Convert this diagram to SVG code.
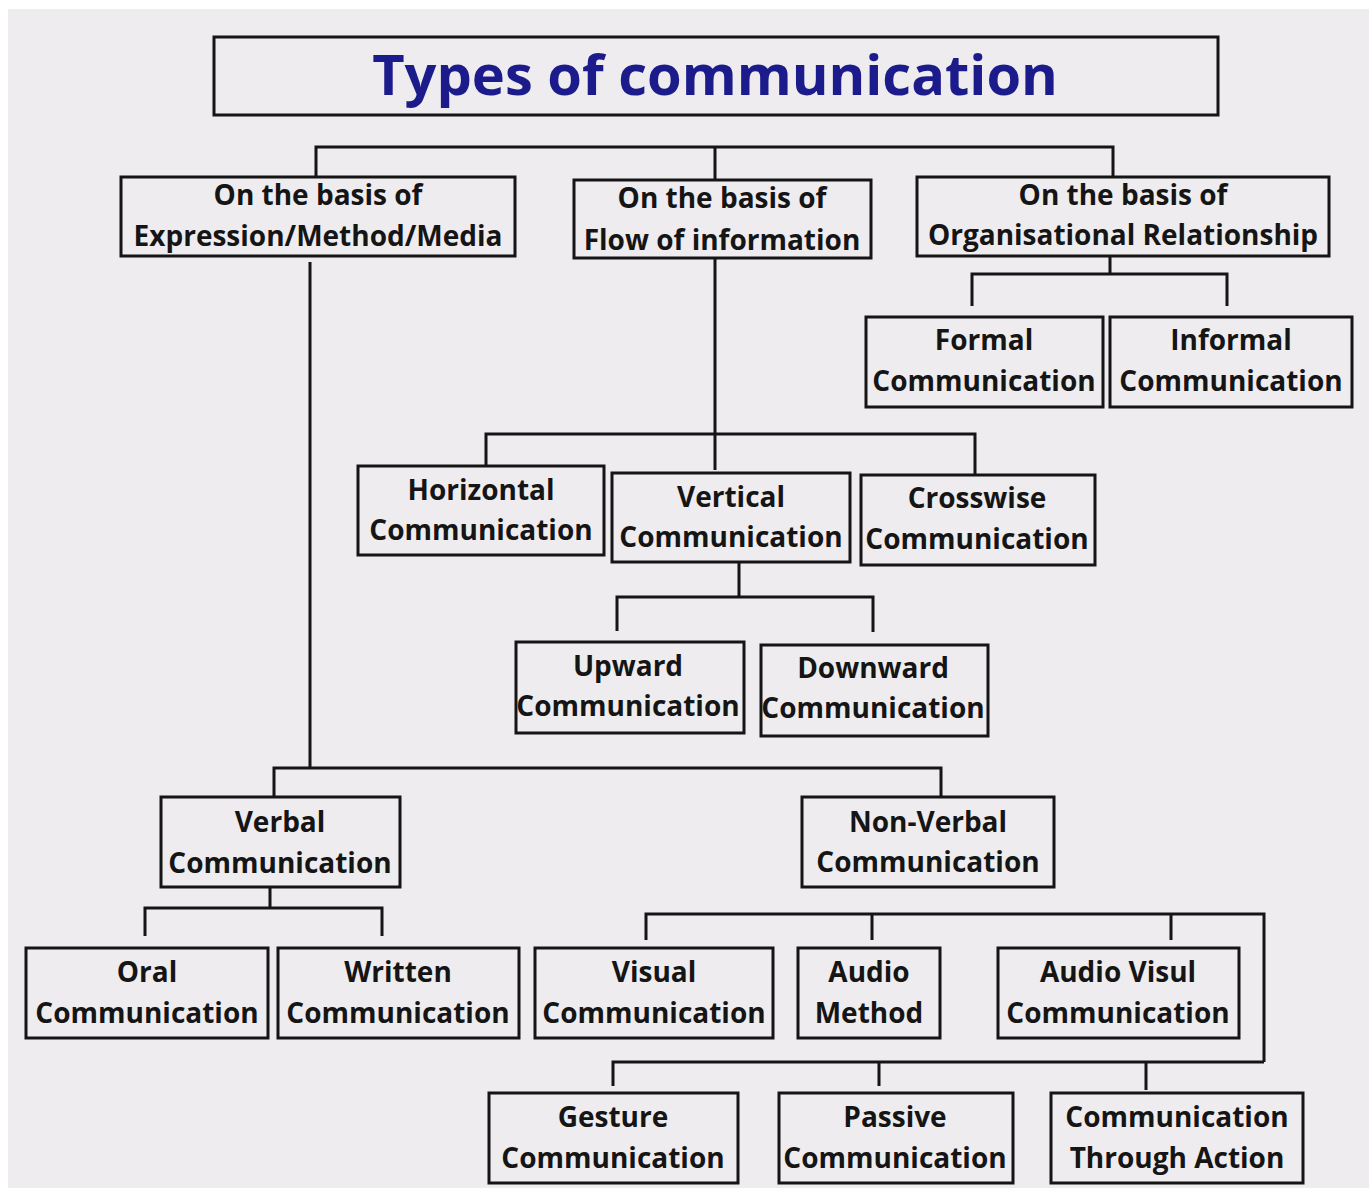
<svg xmlns="http://www.w3.org/2000/svg" width="1369" height="1188" viewBox="0 0 1369 1188">
<style>
.bx{fill:none;stroke:#151515;stroke-width:3}
.t{font-family:"Open Sans","Noto Sans","Liberation Sans",sans-serif;font-weight:700;font-size:28px;fill:#151515;text-anchor:middle}
.title{font-family:"Open Sans","Noto Sans","Liberation Sans",sans-serif;font-weight:700;font-size:56px;fill:#1b1b8c;text-anchor:middle}
.c{fill:none;stroke:#151515;stroke-width:3}
</style>
<rect width="1369" height="1188" fill="#ffffff"/>
<rect x="8" y="9" width="1361" height="1179" fill="#eeecee"/>
<g id="connectors" class="c">
<path d="M316 177V147H1113V177M715 147V180"/>
<path d="M310 262V768M274 797V768H941V797"/>
<path d="M715 258V470M486 465V434H975V474"/>
<path d="M739 562V597M617 631V597H873V632"/>
<path d="M1110 256V274M972 306V274H1227V306"/>
<path d="M270 887V908M145 936V908H382V936"/>
<path d="M646 940V914H1264V1062M872 914V940M1171 914V940"/>
<path d="M613 1086V1062H1264M879 1062V1086M1146 1062V1090"/>
</g>
<g id="title"><rect class="bx" x="214" y="37" width="1004" height="78"/><text class="title" x="715" y="95">Types of communication</text></g>
<g id="expr"><rect class="bx" x="121" y="177" width="394" height="79"/><text class="t" x="318" y="205">On the basis of</text><text class="t" x="318" y="246">Expression/Method/Media</text></g>
<g id="flow"><rect class="bx" x="574" y="180" width="297" height="78"/><text class="t" x="722" y="208">On the basis of</text><text class="t" x="722" y="250">Flow of information</text></g>
<g id="org"><rect class="bx" x="917" y="177" width="412" height="79"/><text class="t" x="1123" y="205">On the basis of</text><text class="t" x="1123" y="245">Organisational Relationship</text></g>
<g id="formal"><rect class="bx" x="866" y="317" width="237" height="90"/><text class="t" x="984" y="350">Formal</text><text class="t" x="984" y="391">Communication</text></g>
<g id="informal"><rect class="bx" x="1110" y="317" width="242" height="90"/><text class="t" x="1231" y="350">Informal</text><text class="t" x="1231" y="391">Communication</text></g>
<g id="horizontal"><rect class="bx" x="358" y="466" width="246" height="89"/><text class="t" x="481" y="500">Horizontal</text><text class="t" x="481" y="540">Communication</text></g>
<g id="vertical"><rect class="bx" x="612" y="473" width="238" height="89"/><text class="t" x="731" y="507">Vertical</text><text class="t" x="731" y="547">Communication</text></g>
<g id="crosswise"><rect class="bx" x="861" y="475" width="234" height="90"/><text class="t" x="977" y="508">Crosswise</text><text class="t" x="977" y="549">Communication</text></g>
<g id="upward"><rect class="bx" x="516" y="642" width="228" height="91"/><text class="t" x="628" y="676">Upward</text><text class="t" x="628" y="716">Communication</text></g>
<g id="downward"><rect class="bx" x="761" y="645" width="227" height="91"/><text class="t" x="873" y="678">Downward</text><text class="t" x="873" y="718">Communication</text></g>
<g id="verbal"><rect class="bx" x="161" y="797" width="239" height="90"/><text class="t" x="280" y="832">Verbal</text><text class="t" x="280" y="873">Communication</text></g>
<g id="nonverbal"><rect class="bx" x="802" y="797" width="252" height="90"/><text class="t" x="928" y="832">Non-Verbal</text><text class="t" x="928" y="872">Communication</text></g>
<g id="oral"><rect class="bx" x="26" y="948" width="242" height="90"/><text class="t" x="147" y="982">Oral</text><text class="t" x="147" y="1023">Communication</text></g>
<g id="written"><rect class="bx" x="278" y="948" width="241" height="90"/><text class="t" x="398" y="982">Written</text><text class="t" x="398" y="1023">Communication</text></g>
<g id="visual"><rect class="bx" x="535" y="948" width="238" height="90"/><text class="t" x="654" y="982">Visual</text><text class="t" x="654" y="1023">Communication</text></g>
<g id="audio"><rect class="bx" x="798" y="948" width="142" height="90"/><text class="t" x="869" y="982">Audio</text><text class="t" x="869" y="1023">Method</text></g>
<g id="audiovisul"><rect class="bx" x="998" y="948" width="241" height="90"/><text class="t" x="1118" y="982">Audio Visul</text><text class="t" x="1118" y="1023">Communication</text></g>
<g id="gesture"><rect class="bx" x="489" y="1093" width="249" height="90"/><text class="t" x="613" y="1127">Gesture</text><text class="t" x="613" y="1168">Communication</text></g>
<g id="passive"><rect class="bx" x="779" y="1093" width="234" height="90"/><text class="t" x="895" y="1127">Passive</text><text class="t" x="895" y="1168">Communication</text></g>
<g id="action"><rect class="bx" x="1051" y="1093" width="252" height="90"/><text class="t" x="1177" y="1127">Communication</text><text class="t" x="1177" y="1168">Through Action</text></g>
</svg>
